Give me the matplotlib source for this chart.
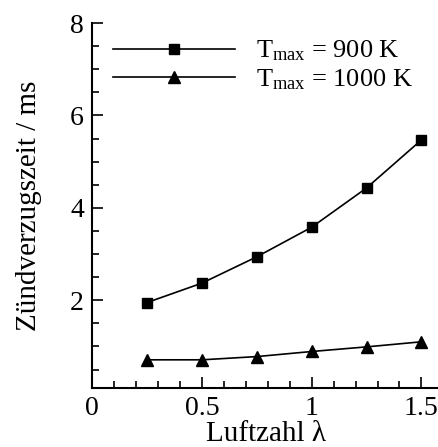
import matplotlib
matplotlib.use("Agg")
import matplotlib.pyplot as plt
from matplotlib.ticker import MultipleLocator

plt.rcParams['font.family'] = ['Liberation Serif', 'DejaVu Serif']
plt.rcParams['mathtext.fontset'] = 'custom'
plt.rcParams['mathtext.rm'] = 'Liberation Serif'
plt.rcParams['mathtext.it'] = 'Liberation Serif:italic'

lam = [0.25, 0.5, 0.75, 1.0, 1.25, 1.5]
t900 = [1.95, 2.37, 2.94, 3.58, 4.43, 5.47]
t1000 = [0.71, 0.71, 0.78, 0.89, 0.99, 1.10]
labels = [r'T$_{\mathrm{max}}$ = 900 K', r'T$_{\mathrm{max}}$ = 1000 K']

fig = plt.figure(figsize=(4.39, 4.47), dpi=100)
ax = fig.add_axes([0.21, 0.132, 0.79, 0.8165])

ax.plot(lam, t900, color='black', lw=1.2, marker='s', ms=7.5, label=labels[0])
ax.plot(lam, t1000, color='black', lw=1.2, marker='^', ms=8, label=labels[1])

ax.set_xlim(0, 1.58)
ax.set_ylim(0.1, 8)
ax.xaxis.set_major_locator(MultipleLocator(0.5))
ax.xaxis.set_minor_locator(MultipleLocator(0.1))
ax.yaxis.set_major_locator(MultipleLocator(2))
ax.yaxis.set_minor_locator(MultipleLocator(0.5))
ax.set_xticks([0, 0.5, 1, 1.5])
ax.set_xticklabels(['0', '0.5', '1', '1.5'])
ax.set_yticks([2, 4, 6, 8])
ax.set_yticklabels(['2', '4', '6', '8'])

ax.spines['top'].set_visible(False)
ax.spines['right'].set_visible(False)
for s in ['left', 'bottom']:
    ax.spines[s].set_linewidth(1.5)
ax.tick_params(which='both', direction='in', width=1.2, labelsize=20)
ax.tick_params(which='major', length=8, pad=6)
ax.tick_params(which='minor', length=5)

ax.set_xlabel('Luftzahl λ', fontsize=21, labelpad=0)
ax.set_ylabel('Zündverzugszeit / ms', fontsize=21, labelpad=20)

ax.legend(loc='upper left', bbox_to_anchor=(0.015, 1.0), frameon=False,
          fontsize=19, handlelength=4.6, handletextpad=0.8, labelspacing=0.15,
          borderaxespad=0.2)

fig.savefig('out.png', dpi=100)
